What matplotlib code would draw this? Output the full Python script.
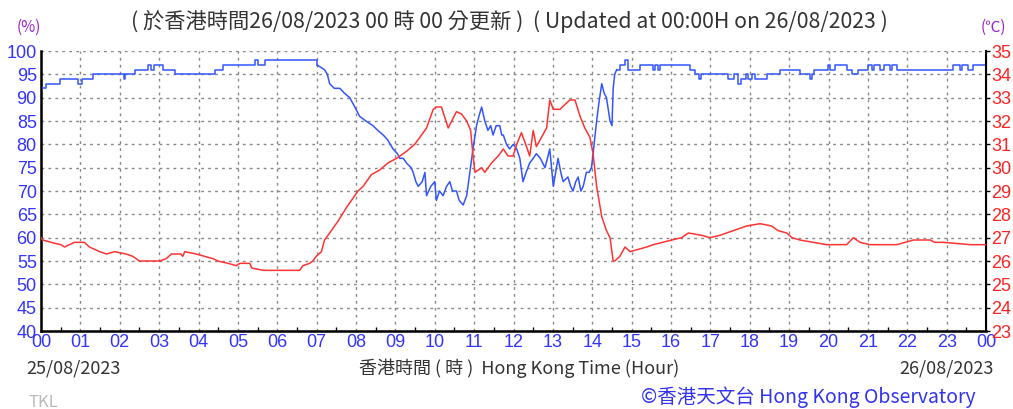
import matplotlib
matplotlib.use("Agg")
import matplotlib.pyplot as plt
from matplotlib.ticker import MultipleLocator

# Relative humidity (%) - hour of day, value
rh_hours = [0.00, 0.13, 0.47, 0.93, 1.05, 1.33, 2.10, 2.14, 2.38, 2.71, 2.80, 2.86, 3.10, 3.39,
            4.41, 4.62, 5.43, 5.50, 5.68, 7.01, 7.20, 7.27, 7.33, 7.45, 7.59, 7.70, 7.84, 7.97,
            8.09, 8.25, 8.43, 8.55, 8.69, 8.80, 8.94, 9.05, 9.11, 9.20, 9.28, 9.40, 9.45, 9.52,
            9.58, 9.68, 9.75, 9.79, 9.90, 10.00, 10.04, 10.12, 10.21, 10.30, 10.38, 10.45, 10.55,
            10.62, 10.72, 10.81, 10.89, 10.97, 11.06, 11.12, 11.19, 11.27, 11.35, 11.42, 11.48,
            11.56, 11.65, 11.70, 11.74, 11.82, 11.90, 11.99, 12.08, 12.16, 12.24, 12.32, 12.41,
            12.50, 12.58, 12.68, 12.80, 12.86, 12.92, 13.01, 13.07, 13.13, 13.20, 13.26, 13.38,
            13.45, 13.51, 13.58, 13.64, 13.71, 13.77, 13.85, 13.92, 13.98, 14.02, 14.11, 14.17,
            14.24, 14.30, 14.36, 14.45, 14.50, 14.53, 14.57, 14.62, 14.70, 14.83, 14.90, 15.21,
            15.55, 15.60, 15.66, 15.72, 16.48, 16.62, 16.70, 16.75, 17.45, 17.60, 17.70, 17.78,
            17.90, 17.95, 18.05, 18.12, 18.43, 18.77, 19.27, 19.53, 19.58, 19.64, 19.98, 20.03,
            20.17, 20.46, 20.60, 20.76, 21.01, 21.10, 21.15, 21.30, 21.40, 21.55, 21.60, 21.73,
            23.17, 23.35, 23.40, 23.55, 23.68, 24.00]
rh_vals = [92, 93, 94, 93, 94, 95, 94, 95, 96, 97, 96, 97, 96, 95,
           96, 97, 98, 97, 98, 97, 96, 95, 93, 92, 92, 91, 90, 88,
           86, 85, 84, 83, 82, 81, 79, 78, 77, 77, 76, 75, 74, 72,
           71, 72, 74, 69, 71, 72, 68, 70, 69, 71, 72, 70, 70,
           68, 67, 69, 74, 79, 84, 86, 88, 85, 83, 84, 82,
           84, 84, 82, 82, 80, 79, 80, 79, 77, 72, 74, 76,
           77, 78, 77, 75, 77, 79, 71, 74, 77, 74, 72, 73,
           71, 70, 72, 73, 70, 71, 74, 74, 75, 78, 85, 89,
           93, 91, 90, 85, 84, 92, 95, 96, 97, 98, 96, 97,
           96, 97, 96, 97, 96, 95, 94, 95, 94, 95, 93, 94,
           95, 94, 95, 94, 95, 96, 95, 94, 95, 96, 97, 96,
           97, 96, 95, 96, 97, 96, 97, 96, 97, 96, 97, 96,
           97, 96, 97, 96, 97, 97]

# Air temperature (degC)
t_hours = [0.00, 0.04, 0.26, 0.50, 0.60, 0.72, 0.85, 1.10, 1.23, 1.49, 1.66, 1.87, 2.16, 2.33,
           2.50, 3.01, 3.18, 3.31, 3.55, 3.60, 3.65, 3.94, 4.37, 4.49, 4.75, 4.96, 5.05, 5.30,
           5.35, 5.64, 6.57, 6.65, 6.82, 6.90, 6.99, 7.12, 7.20, 7.33, 7.54, 7.76, 8.05, 8.18,
           8.39, 8.60, 8.81, 9.03, 9.28, 9.49, 9.62, 9.79, 9.96, 10.04, 10.17, 10.34, 10.55,
           10.68, 10.81, 10.91, 10.96, 11.02, 11.19, 11.27, 11.44, 11.61, 11.74, 11.86, 11.99,
           12.08, 12.20, 12.33, 12.41, 12.50, 12.58, 12.71, 12.84, 12.92, 13.01, 13.18, 13.30,
           13.43, 13.56, 13.69, 13.81, 13.94, 14.02, 14.11, 14.24, 14.36, 14.45, 14.53, 14.57,
           14.70, 14.83, 14.96, 15.17, 15.38, 15.55, 16.02, 16.27, 16.44, 16.78, 16.99, 17.24,
           17.41, 17.58, 17.92, 18.26, 18.55, 18.72, 18.94, 19.07, 19.27, 19.61, 19.95, 20.46,
           20.63, 20.80, 21.05, 21.73, 22.16, 22.58, 22.70, 22.92, 23.60, 24.00]
t_vals = [27.0, 26.9, 26.8, 26.7, 26.6, 26.7, 26.8, 26.8, 26.6, 26.4, 26.3, 26.4, 26.3, 26.2,
          26.0, 26.0, 26.1, 26.3, 26.3, 26.2, 26.4, 26.3, 26.1, 26.0, 25.9, 25.8, 25.9, 25.9,
          25.7, 25.6, 25.6, 25.8, 25.9, 26.0, 26.2, 26.4, 26.9, 27.2, 27.7, 28.3, 29.0, 29.2,
          29.7, 29.9, 30.2, 30.4, 30.7, 31.0, 31.3, 31.7, 32.5, 32.6, 32.6, 31.7, 32.4,
          32.3, 32.0, 31.6, 30.7, 29.8, 30.0, 29.8, 30.2, 30.5, 30.8, 30.5, 30.5,
          31.0, 31.5, 30.9, 30.5, 31.6, 30.9, 31.3, 31.7, 32.9, 32.5, 32.5, 32.7,
          32.9, 32.9, 32.2, 31.7, 31.3, 30.6, 29.2, 27.9, 27.3, 27.0, 26.0, 26.0,
          26.2, 26.6, 26.4, 26.5, 26.6, 26.7, 26.9, 27.0, 27.2, 27.1, 27.0, 27.1,
          27.2, 27.3, 27.5, 27.6, 27.5, 27.3, 27.2, 27.0, 26.9, 26.8, 26.7, 26.7,
          27.0, 26.8, 26.7, 26.7, 26.9, 26.9, 26.8, 26.8, 26.7, 26.7]

hour_labels = ["%02d" % h for h in range(24)] + ["00"]

cjk = ["Noto Sans CJK TC", "DejaVu Sans"]
num_font = "Liberation Sans"
blue = "#3355ff"
red = "#ff3333"
purple = "#9922cc"

fig = plt.figure(figsize=(10.13, 4.09), dpi=100)
ax = fig.add_axes([0.0405, 0.1907, 0.9329, 0.6846])
ax2 = ax.twinx()

# stepped while the humidity is steady, jagged line while it swings
i1 = rh_hours.index(7.01)
i2 = rh_hours.index(14.62)
ax.plot(rh_hours[:i1 + 1], rh_vals[:i1 + 1], color=blue, lw=1.1, drawstyle="steps-post", zorder=3)
ax.plot(rh_hours[i1:i2 + 1], rh_vals[i1:i2 + 1], color=blue, lw=1.1, zorder=3)
ax.plot(rh_hours[i2:], rh_vals[i2:], color=blue, lw=1.1, drawstyle="steps-post", zorder=3)
ax2.plot(t_hours, t_vals, color=red, lw=1.1, zorder=3)

ax.set_xlim(0, 24)
ax.set_ylim(40, 100)
ax2.set_ylim(23, 35)

ax.set_xticks(range(25))
ax.set_xticklabels(hour_labels, family=num_font, fontsize=13, color="#3333ff")
ax.xaxis.set_minor_locator(MultipleLocator(0.5))
ax.set_yticks(range(40, 101, 5))
ax.set_yticklabels([str(v) for v in range(40, 101, 5)], family=num_font, fontsize=13, color="#3333ff")
ax2.set_yticks(range(23, 36))
ax2.set_yticklabels([str(v) for v in range(23, 36)], family=num_font, fontsize=13, color="#ff2222")

ax.tick_params(axis="x", which="major", length=0, pad=2)
ax.tick_params(axis="x", which="minor", direction="in", length=3, width=1)
ax.tick_params(axis="y", length=0, pad=3)
ax2.tick_params(axis="y", direction="out", length=3, width=1, pad=1)

ax.grid(True, color="#888888", ls=(0, (2, 3)), lw=1)
ax.spines["top"].set_visible(False)
ax2.spines["top"].set_visible(False)
ax.spines["left"].set_linewidth(1.8)
ax.spines["bottom"].set_linewidth(1.8)
ax2.spines["right"].set_linewidth(1.5)

fig.text(0.503, 0.948, "( 於香港時間26/08/2023 00 時 00 分更新 )  ( Updated at 00:00H on 26/08/2023 )",
         ha="center", va="center", family=cjk, fontsize=15.3, color="#333333")
fig.text(0.028, 0.933, "(%)", ha="center", va="center", family=cjk, fontsize=11, color=purple)
fig.text(0.981, 0.933, "(℃)", ha="center", va="center", family=cjk, fontsize=11, color=purple)
fig.text(0.026, 0.100, "25/08/2023", ha="left", va="center", family=cjk, fontsize=13, color="#333333")
fig.text(0.981, 0.100, "26/08/2023", ha="right", va="center", family=cjk, fontsize=13, color="#333333")
fig.text(0.512, 0.100, "香港時間 ( 時 )  Hong Kong Time (Hour)", ha="center", va="center",
         family=cjk, fontsize=13, color="#333333")
fig.text(0.963, 0.030, "©香港天文台 Hong Kong Observatory", ha="right", va="center",
         family=cjk, fontsize=14, color="#3333ee")
fig.text(0.028, 0.016, "TKL", ha="left", va="center", family=cjk, fontsize=12, color="#bbbbbb")

fig.savefig("out.png", dpi=100)
